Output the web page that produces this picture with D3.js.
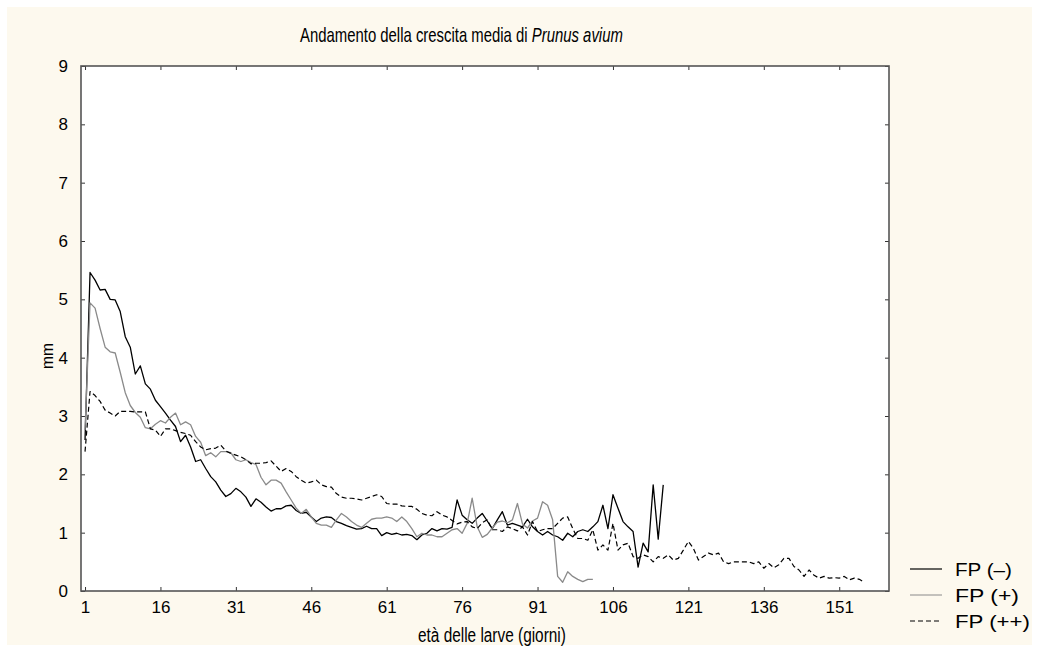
<!DOCTYPE html>
<html>
<head>
<meta charset="utf-8">
<script src="https://cdn.jsdelivr.net/npm/d3@7"></script>
<style>
  body { margin: 0; background: #fff; }
  svg text { font-family: "Liberation Sans", Arial, sans-serif; fill: #000; }
</style>
</head>
<body>
<svg id="chart" width="1039" height="652"></svg>
<script>
// Series values, one per day starting at day 1
var fpMinus = [
    2.59, 5.46, 5.33, 5.16, 5.17, 5.00, 4.99, 4.79, 4.36, 4.18,
    3.72, 3.86, 3.55, 3.46, 3.27, 3.16, 3.05, 2.93, 2.82, 2.56,
    2.67, 2.47, 2.22, 2.25, 2.10, 1.96, 1.87, 1.73, 1.62, 1.67,
    1.76, 1.70, 1.61, 1.45, 1.58, 1.52, 1.44, 1.37, 1.41, 1.41,
    1.46, 1.47, 1.38, 1.33, 1.35, 1.27, 1.19, 1.25, 1.27, 1.26,
    1.19, 1.16, 1.12, 1.09, 1.06, 1.07, 1.11, 1.07, 1.07, 0.95,
    1.00, 0.97, 0.99, 0.96, 0.97, 0.95, 0.88, 0.96, 0.99, 1.07,
    1.03, 1.07, 1.06, 1.09, 1.56, 1.30, 1.22, 1.16, 1.25, 1.33,
    1.20, 1.07, 1.22, 1.36, 1.13, 1.16, 1.13, 1.10, 1.23, 1.10,
    1.02, 0.96, 1.02, 0.96, 0.93, 0.87, 0.99, 0.93, 1.02, 1.05,
    1.02, 1.10, 1.19, 1.47, 1.07, 1.65, 1.42, 1.19, 1.10, 1.02,
    0.41, 0.82, 0.67, 1.82, 0.89, 1.82
];

var fpPlus = [
    2.76, 4.94, 4.85, 4.50, 4.18, 4.10, 4.08, 3.75, 3.40, 3.18,
    3.06, 2.98, 2.80, 2.78, 2.86, 2.92, 2.88, 2.98, 3.05, 2.85,
    2.90, 2.85, 2.65, 2.55, 2.32, 2.37, 2.30, 2.39, 2.39, 2.37,
    2.25, 2.22, 2.25, 2.20, 2.17, 1.95, 1.82, 1.90, 1.90, 1.85,
    1.70, 1.56, 1.42, 1.33, 1.40, 1.27, 1.16, 1.13, 1.13, 1.09,
    1.22, 1.33, 1.27, 1.19, 1.13, 1.09, 1.16, 1.23, 1.25, 1.25,
    1.27, 1.25, 1.19, 1.27, 1.19, 1.07, 0.93, 0.99, 0.96, 0.96,
    0.93, 0.93, 0.99, 1.05, 1.07, 0.99, 1.16, 1.59, 1.10, 0.92,
    0.97, 1.08, 1.18, 1.20, 1.17, 1.22, 1.50, 1.15, 1.08, 1.20,
    1.25, 1.53, 1.47, 1.22, 0.25, 0.15, 0.33, 0.25, 0.20, 0.16,
    0.20, 0.20
];

var fpPlusPlus = [
    2.39, 3.42, 3.35, 3.25, 3.10, 3.05, 3.00, 3.08, 3.08, 3.08,
    3.07, 3.07, 3.07, 2.78, 2.76, 2.65, 2.78, 2.78, 2.75, 2.72,
    2.70, 2.67, 2.56, 2.47, 2.42, 2.44, 2.45, 2.50, 2.40, 2.36,
    2.33, 2.30, 2.25, 2.18, 2.19, 2.19, 2.20, 2.23, 2.14, 2.05,
    2.10, 2.05, 1.96, 1.90, 1.85, 1.87, 1.90, 1.82, 1.79, 1.78,
    1.67, 1.61, 1.59, 1.59, 1.58, 1.56, 1.59, 1.62, 1.65, 1.62,
    1.50, 1.49, 1.49, 1.46, 1.45, 1.45, 1.40, 1.33, 1.30, 1.29,
    1.36, 1.30, 1.27, 1.21, 1.15, 1.18, 1.19, 1.10, 1.07, 1.17,
    1.22, 1.05, 1.05, 1.02, 1.10, 1.07, 1.03, 1.10, 0.96, 1.19,
    1.02, 1.05, 1.07, 1.07, 1.16, 1.25, 1.27, 1.07, 0.90, 0.90,
    0.87, 1.05, 0.70, 0.79, 0.70, 1.16, 0.70, 0.79, 0.82, 0.59,
    0.56, 0.62, 0.59, 0.50, 0.59, 0.56, 0.62, 0.53, 0.56, 0.70,
    0.85, 0.73, 0.53, 0.59, 0.65, 0.62, 0.65, 0.50, 0.47, 0.50,
    0.50, 0.50, 0.50, 0.47, 0.50, 0.39, 0.47, 0.40, 0.45, 0.56,
    0.56, 0.42, 0.36, 0.25, 0.36, 0.27, 0.22, 0.25, 0.22, 0.23,
    0.22, 0.25, 0.19, 0.22, 0.20, 0.15
];

var firstDay = 1;
var xTicks = [1, 16, 31, 46, 61, 76, 91, 106, 121, 136, 151];
var yTicks = [0, 1, 2, 3, 4, 5, 6, 7, 8, 9];
var seriesNames = ['FP (\u2013)', 'FP (+)', 'FP (++)'];

var svg = d3.select('#chart');

// cream page panel
svg.append('rect')
    .attr('x', 7).attr('y', 7)
    .attr('width', 1025).attr('height', 638)
    .attr('fill', '#fdf9ee');

var plot = { left: 81, right: 889, top: 66, bottom: 591 };

var x = d3.scaleLinear().domain([0.2, 160.9]).range([plot.left, plot.right]);
var y = d3.scaleLinear().domain([0, 9]).range([plot.bottom, plot.top]);

svg.append('rect')
    .attr('x', plot.left).attr('y', plot.top)
    .attr('width', plot.right - plot.left)
    .attr('height', plot.bottom - plot.top)
    .attr('fill', '#fff');

// Axes with inward ticks on all four sides
function styleAxis(g) {
    g.select('.domain').remove();
    g.selectAll('.tick line').attr('stroke', '#333');
    g.selectAll('.tick text')
        .style('font-family', '"Liberation Sans", Arial, sans-serif')
        .style('font-size', '17px')
        .attr('fill', '#000');
}

svg.append('g')
    .attr('transform', 'translate(0,' + plot.bottom + ')')
    .call(d3.axisBottom(x).tickValues(xTicks).tickSizeInner(-4).tickSizeOuter(0).tickPadding(10))
    .call(styleAxis);

svg.append('g')
    .attr('transform', 'translate(0,' + plot.top + ')')
    .call(d3.axisTop(x).tickValues(xTicks).tickSizeInner(-4).tickSizeOuter(0).tickFormat(''))
    .call(styleAxis);

svg.append('g')
    .attr('transform', 'translate(' + plot.left + ',0)')
    .call(d3.axisLeft(y).tickValues(yTicks).tickSizeInner(-4).tickSizeOuter(0).tickPadding(13))
    .call(styleAxis);

svg.append('g')
    .attr('transform', 'translate(' + plot.right + ',0)')
    .call(d3.axisRight(y).tickValues(yTicks).tickSizeInner(-4).tickSizeOuter(0).tickFormat(''))
    .call(styleAxis);

// frame
svg.append('rect')
    .attr('x', plot.left).attr('y', plot.top)
    .attr('width', plot.right - plot.left)
    .attr('height', plot.bottom - plot.top)
    .attr('fill', 'none')
    .attr('stroke', '#555')
    .attr('stroke-width', 1.6);

var line = d3.line()
    .x(function (d, i) { return x(firstDay + i); })
    .y(function (d) { return y(d); });

var styles = [
    { data: fpMinus, stroke: '#000', width: 1.3, dash: null },
    { data: fpPlus, stroke: '#8a8a8a', width: 1.3, dash: null },
    { data: fpPlusPlus, stroke: '#000', width: 1.2, dash: '5,3' }
];

styles.forEach(function (s) {
    svg.append('path')
        .datum(s.data)
        .attr('d', line)
        .attr('fill', 'none')
        .attr('stroke', s.stroke)
        .attr('stroke-width', s.width)
        .attr('stroke-linejoin', 'round')
        .attr('stroke-dasharray', s.dash);
});

// Squeeze a text horizontally so it spans the given width (as in the original export)
function squeeze(text, x0, y0, width) {
    var w = text.node().getComputedTextLength();
    text.attr('transform', 'translate(' + x0 + ',' + y0 + ') scale(' + (width / w) + ',1)');
}

var title = svg.append('text').style('font-size', '20px');
title.append('tspan').text('Andamento della crescita media di ');
title.append('tspan').style('font-style', 'italic').text('Prunus avium');
squeeze(title, 300, 42, 323);

var xLabel = svg.append('text').style('font-size', '20px').text('età delle larve (giorni)');
squeeze(xLabel, 418, 642, 148);

svg.append('text')
    .attr('transform', 'translate(53,369) rotate(-90)')
    .attr('textLength', 26).attr('lengthAdjust', 'spacingAndGlyphs')
    .style('font-size', '17px')
    .text('mm');

// Legend
var legendY = [569, 595, 621];
styles.forEach(function (s, i) {
    svg.append('line')
        .attr('x1', 910).attr('x2', 942)
        .attr('y1', legendY[i]).attr('y2', legendY[i])
        .attr('stroke', s.stroke)
        .attr('stroke-width', i === 1 ? 1 : 1.2)
        .attr('stroke-dasharray', s.dash);
    var t = svg.append('text').style('font-size', '19px').text(seriesNames[i]);
    squeeze(t, 955, legendY[i] + 7, [57, 64, 75][i]);
});
</script>
</body>
</html>
